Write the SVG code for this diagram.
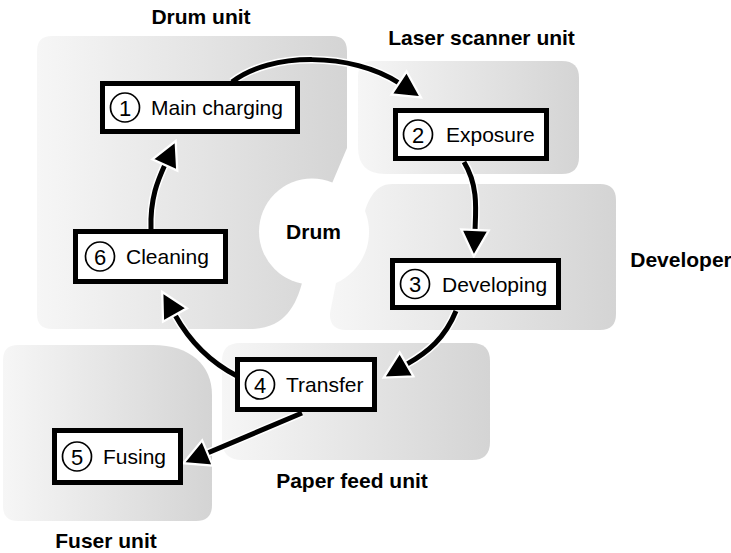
<svg xmlns="http://www.w3.org/2000/svg" width="731" height="553" viewBox="0 0 731 553">
<defs>
<linearGradient id="g" x1="0" y1="0" x2="1" y2="0">
<stop offset="0" stop-color="#f6f6f6"/>
<stop offset="1" stop-color="#d4d4d4"/>
</linearGradient>
<marker id="ah" markerUnits="userSpaceOnUse" markerWidth="32" markerHeight="32" viewBox="0 0 28 28" refX="2" refY="14" orient="auto">
<path d="M2,2 L25,14 L2,26 Z" fill="#000" stroke="#fff" stroke-width="2" stroke-linejoin="miter"/>
</marker>
<style>
.reg{fill:url(#g);}
.box{fill:#fff;stroke:#000;stroke-width:5;}
.num{fill:none;stroke:#000;stroke-width:1.7;}
.t{font-family:"Liberation Sans",Arial,sans-serif;font-size:21px;fill:#000;}
.d{font-family:"Liberation Sans",Arial,sans-serif;font-size:22px;fill:#000;text-anchor:middle;}
.lbl{font-family:"Liberation Sans",Arial,sans-serif;font-size:21px;font-weight:bold;fill:#000;text-anchor:middle;}
.halo{fill:none;stroke:#fff;stroke-width:8;}
.ln{fill:none;stroke:#000;stroke-width:5;marker-end:url(#ah);}
</style>
</defs>
<rect width="731" height="553" fill="#fff"/>
<g id="regions">
<path id="drum-unit-area" class="reg" d="M52,36 H332 Q347,36 347,51 V148 L333,181 L312,231 L302,283 C296,305 285,329 250,329 H52 Q37,329 37,314 V51 Q37,36 52,36 Z"/>
<path id="laser-area" class="reg" d="M373,61 H562 Q579,61 579,78 V157 Q579,174 562,174 H385 Q358,174 358,147 V76 Q358,61 373,61 Z"/>
<path id="developer-area" class="reg" d="M392,184 H600 Q616,184 616,200 V314 Q616,330 600,330 H346 Q329,330 330,313 L336,283 A56 56 0 0 0 365,211 C370,195 378,184 392,184 Z"/>
<path id="paper-area" class="reg" d="M240,343 H472 Q490,343 490,361 V442 Q490,460 472,460 H242 Q222,460 222,440 V361 Q222,343 240,343 Z"/>
<path id="fuser-area" class="reg" d="M18,345 H153 C190,345 212,365 212,395 V505 Q212,521 196,521 H18 Q3,521 3,506 V360 Q3,345 18,345 Z"/>
<circle cx="312" cy="231.5" r="53" fill="#fff"/>
</g>
<g id="labels">
<text class="lbl" x="201" y="24">Drum unit</text>
<text class="lbl" x="481.5" y="45">Laser scanner unit</text>
<text class="lbl" x="681" y="267">Developer</text>
<text class="lbl" x="313.5" y="239">Drum</text>
<text class="lbl" x="352" y="488">Paper feed unit</text>
<text class="lbl" x="106" y="548">Fuser unit</text>
</g>
<g id="connectors">
<path class="halo" d="M232,82 C270,52 352,52 399,83"/>
<path class="ln" d="M232,82 C270,52 352,52 399,83"/>
<path class="halo" d="M464,162 C478,185 476,208 475,230"/>
<path class="ln" d="M464,162 C478,185 476,208 475,230"/>
<path class="halo" d="M456,311 C445,338 428,352 406.5,364.4"/>
<path class="ln" d="M456,311 C445,338 428,352 406.5,364.4"/>
<path class="halo" d="M237,376 C210,362 190,342 175,315"/>
<path class="ln" d="M237,376 C210,362 190,342 175,315"/>
<path class="halo" d="M302,413 L207.5,453"/>
<path class="ln" d="M302,413 L207.5,453"/>
<path class="halo" d="M151,229 C150,198 158,180 164.8,165"/>
<path class="ln" d="M151,229 C150,198 158,180 164.8,165"/>
</g>
<g id="n1">
<rect class="box" x="102.5" y="83.5" width="195" height="48"/>
<circle class="num" cx="125" cy="107.5" r="14.5"/>
<text class="d" x="125" y="115.5">1</text>
<text class="t" x="151" y="115">Main charging</text>
</g>
<g id="n2">
<rect class="box" x="395.5" y="110.5" width="151" height="48"/>
<circle class="num" cx="418" cy="134.5" r="14.5"/>
<text class="d" x="418" y="142.5">2</text>
<text class="t" x="446" y="142">Exposure</text>
</g>
<g id="n3">
<rect class="box" x="392.5" y="260.5" width="166" height="47"/>
<circle class="num" cx="415" cy="284" r="14.5"/>
<text class="d" x="415" y="292">3</text>
<text class="t" x="442" y="291.5">Developing</text>
</g>
<g id="n4">
<rect class="box" x="237.5" y="359.5" width="137" height="50"/>
<circle class="num" cx="260" cy="384.5" r="14.5"/>
<text class="d" x="260" y="392.5">4</text>
<text class="t" x="286" y="392">Transfer</text>
</g>
<g id="n5">
<rect class="box" x="54.5" y="430.5" width="126" height="52"/>
<circle class="num" cx="77" cy="456.5" r="14.5"/>
<text class="d" x="77" y="464.5">5</text>
<text class="t" x="103" y="464">Fusing</text>
</g>
<g id="n6">
<rect class="box" x="75.5" y="231.5" width="150" height="50"/>
<circle class="num" cx="100" cy="256.5" r="14.5"/>
<text class="d" x="100" y="264.5">6</text>
<text class="t" x="126" y="264">Cleaning</text>
</g>
</svg>
